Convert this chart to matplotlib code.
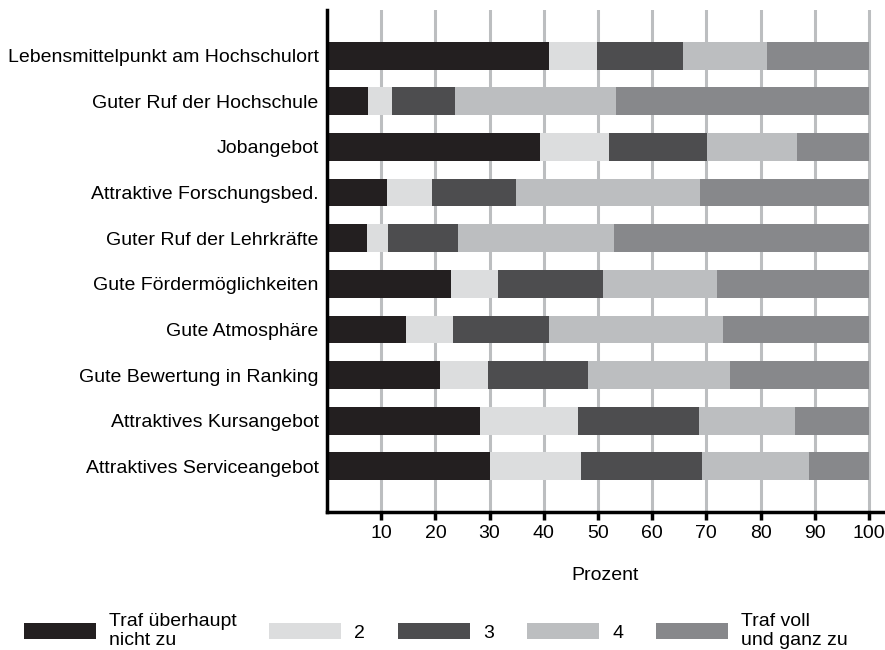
import matplotlib
matplotlib.use("Agg")
import matplotlib.pyplot as plt
import numpy as np

plt.rcParams['font.family'] = ['Liberation Sans', 'DejaVu Sans']

# Gruende fuer die Wahl der Hochschule (Prozent je Stufe)
categories = [
    "Lebensmittelpunkt am Hochschulort",
    "Guter Ruf der Hochschule",
    "Jobangebot",
    "Attraktive Forschungsbed.",
    "Guter Ruf der Lehrkräfte",
    "Gute Fördermöglichkeiten",
    "Gute Atmosphäre",
    "Gute Bewertung in Ranking",
    "Attraktives Kursangebot",
    "Attraktives Serviceangebot",
]
stufe1 = [40.9, 7.6, 39.3, 11.1, 7.4, 22.9, 14.6, 20.9, 28.3, 30.0]
stufe2 = [9.0, 4.4, 12.8, 8.2, 3.9, 8.6, 8.7, 8.8, 18.0, 16.9]
stufe3 = [15.7, 11.7, 18.1, 15.6, 12.9, 19.4, 17.6, 18.4, 22.3, 22.3]
stufe4 = [15.5, 29.6, 16.5, 33.9, 28.8, 21.0, 32.1, 26.3, 17.8, 19.7]
stufe5 = [18.9, 46.7, 13.3, 31.2, 47.0, 28.1, 27.0, 25.6, 13.6, 11.1]
legend_labels = ["Traf überhaupt\nnicht zu", "2", "3", "4", "Traf voll\nund ganz zu"]
xticks = [10, 20, 30, 40, 50, 60, 70, 80, 90, 100]

colors = ["#231f20", "#dcddde", "#4d4d4f", "#bcbec0", "#87888b"]

fig = plt.figure(figsize=(8.85, 6.5), dpi=100)
ax = fig.add_axes([0.3695, 0.2123, 0.6295, 0.7723])

y = np.arange(len(categories))
left = np.zeros(len(categories))
for vals, col, lab in zip([stufe1, stufe2, stufe3, stufe4, stufe5], colors, legend_labels):
    ax.barh(y, vals, left=left, height=0.61, color=col, label=lab, zorder=2)
    left += np.array(vals)

ax.set_xlim(0, 102.8)
ax.set_ylim(len(categories), -1)
ax.set_yticks(y)
ax.set_yticklabels(categories, fontsize=14)
ax.set_xticks(xticks)
ax.set_xticklabels([str(t) for t in xticks], fontsize=14)
ax.xaxis.grid(True, color="#bcbec0", linewidth=2.2, zorder=0)
ax.set_axisbelow(True)

for s in ["top", "right"]:
    ax.spines[s].set_visible(False)
ax.spines["left"].set_linewidth(2.5)
ax.spines["bottom"].set_linewidth(2.5)
ax.tick_params(axis="y", length=0, pad=6)
ax.tick_params(axis="x", length=6, width=2.5, pad=3)
ax.set_xlabel("Prozent", fontsize=14, labelpad=18)

fig.legend(loc="lower left", bbox_to_anchor=(0.007, -0.026), ncol=5, frameon=False,
           fontsize=14, handlelength=3.7, handleheight=0.9, handletextpad=0.67,
           columnspacing=1.7, labelspacing=0.0)

fig.savefig("out.png", dpi=100)
